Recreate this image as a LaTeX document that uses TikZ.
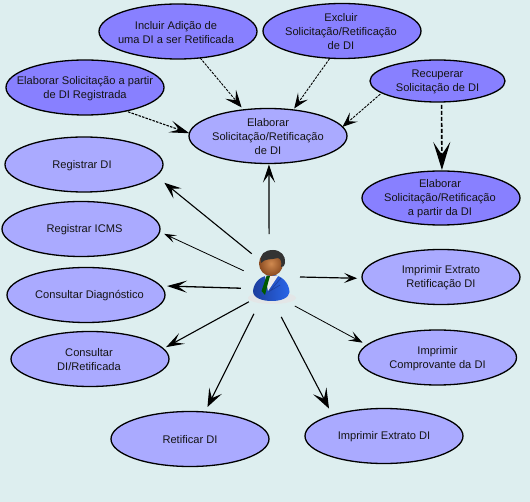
\documentclass[tikz,border=0pt]{standalone}
\usepackage{fontspec}
\setmainfont{Liberation Sans}
\usetikzlibrary{shapes.geometric,arrows.meta}
\definecolor{bgc}{HTML}{DDEEEF}
\definecolor{dk}{HTML}{8880FF}
\definecolor{lt}{HTML}{AAAAFF}
\definecolor{suitA}{HTML}{1C3F9E}
\definecolor{suitB}{HTML}{2A66E8}
\definecolor{skinA}{HTML}{D08A50}
\definecolor{skinB}{HTML}{8A4A20}
\tikzset{
  uc/.style={ellipse,draw=black,line width=1.3pt,inner sep=0pt,outer sep=0pt,minimum width=158pt,minimum height=55pt},
  ucd/.style={uc,fill=dk},
  ucl/.style={uc,fill=lt},
  txt/.style={align=center,inner sep=0pt,yshift=-1pt,text=black!92,font=\fontsize{11.1}{14}\selectfont},
  assoc/.style args={#1/#2/#3}{line width=#3pt,-{Stealth[length=#1pt,width=#2pt,inset=0.45*#1pt]}},
  dsh/.style={dash pattern=on 2.5pt off 1.2pt},
}
\begin{document}
\begin{tikzpicture}[x=1pt,y=-1pt]
\useasboundingbox[fill=bgc] (0,0) rectangle (530,502);
% use cases
\node[ucd,label={[txt,xshift=-2pt]center:Incluir Adição de\\uma DI a ser Retificada}] (inc) at (178,31.5) {};
\node[ucd,label={[txt]center:Elaborar Solicitação a partir\\de DI Registrada}] (sol) at (85,87.5) {};
\node[ucd,label={[txt,xshift=-1pt]center:Excluir\\Solicitação/Retificação\\de DI}] (exc) at (342,31) {};
\node[ucd,minimum width=135pt,minimum height=42pt,label={[txt]center:Recuperar\\Solicitação de DI}] (rec) at (437.5,81) {};
\node[ucl,label={[txt]center:Elaborar\\Solicitação/Retificação\\de DI}] (cen) at (268,136) {};
\node[ucd,minimum height=54pt,label={[txt,xshift=-1pt]center:Elaborar\\Solicitação/Retificação\\a partir da DI}] (par) at (441,198) {};
\node[ucl,label={[txt,xshift=-2pt]center:Registrar DI}] (reg) at (84,164.5) {};
\node[ucl,label={[txt,xshift=3.5pt]center:Registrar ICMS}] (icm) at (81,229) {};
\node[ucl,label={[txt,xshift=3.5pt]center:Consultar Diagnóstico}] (dia) at (86,295) {};
\node[ucl,label={[txt,xshift=-1pt]center:Consultar\\DI/Retificada}] (con) at (90,359) {};
\node[ucl,label={[txt]center:Retificar DI}] (ret) at (190,439) {};
\node[ucl,label={[txt]center:Imprimir Extrato DI}] (ext) at (384,436) {};
\node[ucl,label={[txt]center:Imprimir\\Comprovante da DI}] (cmp) at (437.5,357.5) {};
\node[ucl,label={[txt]center:Imprimir Extrato\\Retificação DI}] (exr) at (441,277) {};
% actor icon
\fill[black!10,opacity=.8] (272,298) ellipse [x radius=24,y radius=6];
\shade[left color=suitA,right color=suitB]
  (253,291) .. controls (254,281) and (262,275) .. (272,275)
  .. controls (282,275) and (289,283) .. (289.5,292)
  .. controls (289,298) and (281,301) .. (272,301)
  .. controls (262,301) and (253,298) .. (253,291) -- cycle;
\fill[white!85!gray] (265,276) -- (278,276) -- (268,291) -- cycle;
\fill[green!35!black] (266.5,276) -- (270,276) -- (268,283) -- (265,295) -- (261.5,291) -- cycle;
\draw[suitA,line width=.6pt] (281,278) -- (270,291) -- (280,285);
\shade[inner color=skinA,outer color=skinB]
  (271,263.5) ellipse [x radius=12,y radius=12.5];
\fill[black!80] (261,263) .. controls (259,254) and (265,250) .. (273,250)
  .. controls (281,250) and (286,256) .. (285,263)
  .. controls (285,266) and (283,267) .. (281,267)
  .. controls (282,262) and (281,259) .. (278,258)
  .. controls (272,260) and (265,258) .. (261,263) -- cycle;
\node[circle,inner sep=0pt,outer sep=0pt,minimum size=56pt] (actor) at (272,277) {};
% dashed connectors
\draw[assoc=17/14/.9,dsh,shorten >=3.2pt] (inc.-50.3) -- (cen.133.2);
\draw[assoc=20/12/1.1,dsh,shorten <=2.4pt] (sol.-30.8) -- (cen.178);
\draw[assoc=15/12/.9,dsh,shorten <=.5pt,shorten >=1.8pt] (exc.-114.6) -- (cen.46.7);
\draw[assoc=15/12/.9,dsh,shorten <=2pt] (rec.-168.2) -- (cen.7.7);
\draw[assoc=28/17/1.6,dash pattern=on 4pt off 2pt,shorten <=3pt,shorten >=1pt] (rec.-79) -- (par.88);
% actor connectors
\draw[assoc=18/12/1.1,shorten <=15pt,shorten >=1pt] (actor.96) -- (cen.-88);
\draw[assoc=17/13/1.1,shorten <=3pt,shorten >=10.9pt] (actor.130) -- (reg.-9.3);
\draw[assoc=12/8/.8,shorten <=1pt,shorten >=5pt] (actor.168.5) -- (icm.-2.2);
\draw[assoc=20/12/1.3,shorten <=5.6pt,shorten >=6.5pt] (actor.204.9) -- (dia.7);
\draw[assoc=18/12/1.1,shorten <=6.3pt,shorten >=3.2pt] (actor.231.7) -- (con.8.2);
\draw[assoc=18/14/1.1,shorten <=13pt,shorten >=5.6pt] (actor.244.5) -- (ret.61.8);
\draw[assoc=20/15/1.1,shorten <=13.6pt,shorten >=7.4pt] (actor.276) -- (ext.158.8);
\draw[assoc=14/10/.8,shorten <=10pt,shorten >=5pt] (actor.300.6) -- (cmp.170.3);
\draw[assoc=13/10/1.2,shorten >=5pt] (actor.0) -- (exr.181);
\end{tikzpicture}
\end{document}
